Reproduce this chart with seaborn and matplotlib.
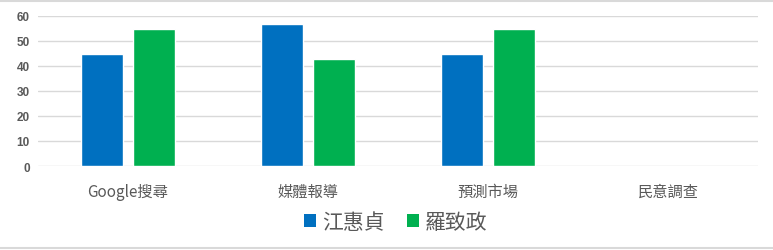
import numpy as np
import pandas as pd
import matplotlib
matplotlib.use("Agg")
import matplotlib.pyplot as plt
from matplotlib.lines import Line2D
from matplotlib.patches import Patch
import seaborn as sns

# Data
categories = ["Google搜尋", "媒體報導", "預測市場", "民意調查"]
series_names = ["江惠貞", "羅致政"]
jiang_values = [45, 57, 45, np.nan]
luo_values = [55, 43, 55, np.nan]
y_ticks = [0, 10, 20, 30, 40, 50, 60]

colors = ["#0070C0", "#00B050"]
text_gray = "#595959"
grid_gray = "#D9D9D9"

df = pd.DataFrame({
    "category": categories * 2,
    "candidate": [series_names[0]] * 4 + [series_names[1]] * 4,
    "value": jiang_values + luo_values,
})

sns.set_theme(style="white")
plt.rcParams["font.family"] = ["Noto Sans CJK TC", "DejaVu Sans"]

fig = plt.figure(figsize=(7.73, 2.51), dpi=100)
ax = fig.add_axes([38 / 773, 84 / 251, 720 / 773, 150 / 251])

sns.barplot(
    data=df, x="category", y="value", hue="candidate",
    order=categories, hue_order=series_names,
    palette=colors, width=0.578, gap=0.21,
    saturation=1, legend=False, ax=ax, zorder=3,
)

ax.set_ylim(0, 60)
ax.set_yticks(y_ticks)
ax.set_xlim(-0.5, len(categories) - 0.5)
ax.set_xlabel("")
ax.set_ylabel("")
for s in ax.spines.values():
    s.set_visible(False)
ax.yaxis.grid(True, color=grid_gray, linewidth=1.0, zorder=0)
ax.xaxis.grid(False)
ax.tick_params(axis="both", length=0)
ax.tick_params(axis="y", pad=6)
ax.tick_params(axis="x", pad=12)

for lbl in ax.get_yticklabels():
    lbl.set_fontfamily(["Liberation Sans", "DejaVu Sans"])
    lbl.set_fontweight("bold")
    lbl.set_fontsize(8.5)
    lbl.set_color(text_gray)
for lbl in ax.get_xticklabels():
    lbl.set_fontfamily(["Noto Sans CJK TC", "DejaVu Sans"])
    lbl.set_fontsize(11)
    lbl.set_fontweight("medium")
    lbl.set_color(text_gray)

handles = [Patch(facecolor=c, edgecolor="none") for c in colors]
fig.legend(
    handles, series_names, loc="center", bbox_to_anchor=(396 / 773, 1 - 223 / 251),
    ncol=2, frameon=False, fontsize=15, labelcolor=text_gray,
    handlelength=0.55, handleheight=0.6, handletextpad=0.3, columnspacing=1.1,
)

# chart area border lines
fig.add_artist(Line2D([0, 1], [1 - 2 / 251, 1 - 2 / 251], color=grid_gray, linewidth=1.5))
fig.add_artist(Line2D([0, 1], [1 - 249 / 251, 1 - 249 / 251], color=grid_gray, linewidth=1.5))

fig.savefig("out.png", dpi=100, facecolor="white")
